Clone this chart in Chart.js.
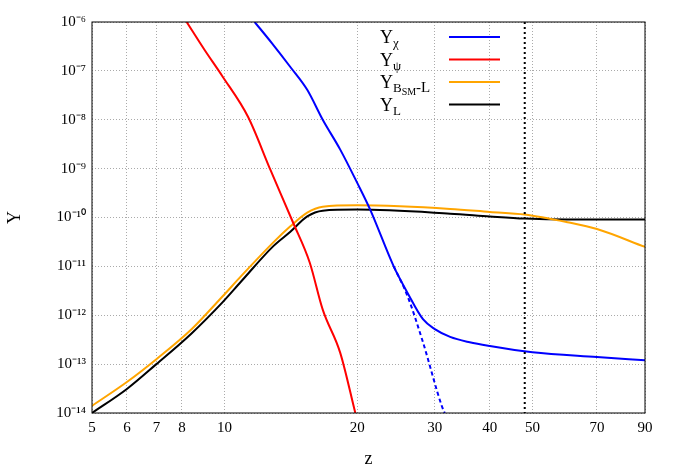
<!DOCTYPE html>
<html><head><meta charset="utf-8">
<script src="https://cdn.jsdelivr.net/npm/chart.js@4/dist/chart.umd.min.js"></script>
<style>html,body{margin:0;padding:0;background:#fff}#w{width:678px;height:474px}</style>
</head><body><div id="w"><canvas id="c"></canvas></div>
<script>
const xTicks=[5,6,7,8,10,20,30,40,50,70,90];
const yTicks=[1e-14,1e-13,1e-12,1e-11,1e-10,1e-9,1e-8,1e-7,1e-6];
const yTickLabels=['10⁻¹⁴','10⁻¹³','10⁻¹²','10⁻¹¹','10⁻¹⁰','10⁻⁹','10⁻⁸','10⁻⁷','10⁻⁶'];
const psiZ=[8.2,9.0,9.9,11.3,12.7,14.3,15.6,16.7,18.3,19.8];
const psiY=[1e-6,2.7e-7,7.6e-8,1.15e-8,9.5e-10,7.9e-11,1.2e-11,1.3e-12,1.7e-13,1e-14];
const chiZ=[11.7,12.8,14.1,15.4,16.7,18.3,20,21.4,24.2,26,28.2,30,32.5,36,40,50,70,90];
const chiY=[1e-6,3.7e-7,1.2e-7,4.1e-8,1e-8,2.45e-9,5.1e-10,1.45e-10,1e-11,2.9e-12,8.3e-13,5.2e-13,3.6e-13,2.8e-13,2.35e-13,1.75e-13,1.4e-13,1.2e-13];
const chiDZ=[24.2,26,28.2,31.2,31.6];
const chiDY=[1e-11,2.5e-12,2.8e-13,1.3e-14,1e-14];
const bZ=[5,6,7,8.4,9.9,10.9,12.9,14.1,15.4,16.7,20,25,32.5,40,48,60,70,90];
const bY=[1.4e-14,4.3e-14,1.26e-13,5.1e-13,2.45e-12,6.3e-12,3.1e-11,6.6e-11,1.26e-10,1.66e-10,1.78e-10,1.7e-10,1.5e-10,1.3e-10,1.15e-10,8e-11,5.8e-11,2.5e-11];
const lZ=[5,6,7,8.4,9.9,10.9,12.9,14.1,15.4,16.7,20,32.5,40,48,60,90];
const lY=[1e-14,3.1e-14,1e-13,4.2e-13,1.86e-12,4.9e-12,2.6e-11,5.1e-11,1.05e-10,1.38e-10,1.45e-10,1.2e-10,1.05e-10,9.5e-11,9.1e-11,9.1e-11];
const vLineZ=48;
const pts=(a,b)=>a.map((v,i)=>({x:v,y:b[i]}));
const ds=(z,y,c,extra)=>Object.assign({data:pts(z,y),borderColor:c,borderWidth:2,pointRadius:0,fill:false,cubicInterpolationMode:'monotone'},extra||{});
const F='"Liberation Serif", serif';
const extras={id:'extras',afterDatasetsDraw(ch){
  const {ctx,chartArea:a,scales:{x}}=ch;
  const px=x.getPixelForValue(vLineZ);
  ctx.save();ctx.strokeStyle='#000';ctx.lineWidth=2;ctx.setLineDash([2,3]);
  ctx.beginPath();ctx.moveTo(px,a.top);ctx.lineTo(px,a.bottom);ctx.stroke();ctx.setLineDash([]);
  const items=[['χ','',"#0000ff"],['ψ','',"#ff0000"],['B','SM',"#ffa500"],['L','',"#000"]];
  items.forEach((it,i)=>{
    const y=37+i*22.5;
    ctx.fillStyle='#000';ctx.textBaseline='alphabetic';ctx.font='18px '+F;
    ctx.fillText('Y',380,y+6);
    let xx=380+ctx.measureText('Y').width;
    ctx.font='13px '+F;ctx.fillText(it[0],xx,y+10);
    if(it[0]==='B'){xx+=ctx.measureText('B').width;ctx.font='10px '+F;ctx.fillText('SM',xx,y+13);xx+=ctx.measureText('SM').width;ctx.font='15px '+F;ctx.fillText('-L',xx,y+10);}
    ctx.strokeStyle=it[2];ctx.lineWidth=2;ctx.beginPath();ctx.moveTo(449,y);ctx.lineTo(500,y);ctx.stroke();
  });
  ctx.strokeStyle='#000';ctx.lineWidth=1;ctx.strokeRect(a.left,a.top,a.right-a.left,a.bottom-a.top);
  ctx.restore();
}};
new Chart(document.getElementById('c'),{type:'line',
 data:{datasets:[ds(chiZ,chiY,'#0000ff'),ds(chiDZ,chiDY,'#0000ff',{borderDash:[4,3]}),ds(psiZ,psiY,'#ff0000'),ds(bZ,bY,'#ffa500'),ds(lZ,lY,'#000000')]},
 plugins:[extras],
 options:{responsive:true,maintainAspectRatio:false,animation:false,
  layout:{padding:{top:22,right:33,left:0,bottom:0}},
  plugins:{legend:{display:false},tooltip:{enabled:false}},
  scales:{
   x:{type:'logarithmic',min:5,max:90,
     afterBuildTicks(s){s.ticks=xTicks.map(v=>({value:v}));},
     afterFit(s){s.height=61;},
     ticks:{callback:v=>String(v),color:'#000',font:{family:F,size:15},maxRotation:0,autoSkip:false,padding:6},
     grid:{color:'#aaa',drawTicks:false},border:{display:false,dash:[1,2]},
     title:{display:true,text:'z',font:{family:F,size:18},color:'#000',padding:{top:4}}},
   y:{type:'logarithmic',min:1e-14,max:1e-6,
     afterBuildTicks(s){s.ticks=yTicks.map(v=>({value:v}));},
     afterFit(s){s.width=92;},
     ticks:{callback:(v,i)=>yTickLabels[i],color:'#000',font:{family:F,size:15},autoSkip:false,padding:6},
     grid:{color:'#aaa',drawTicks:false},border:{display:false,dash:[1,2]},
     title:{display:true,text:'Y',font:{family:F,size:18},color:'#000',padding:{bottom:4}}}
  }}});
</script></body></html>
